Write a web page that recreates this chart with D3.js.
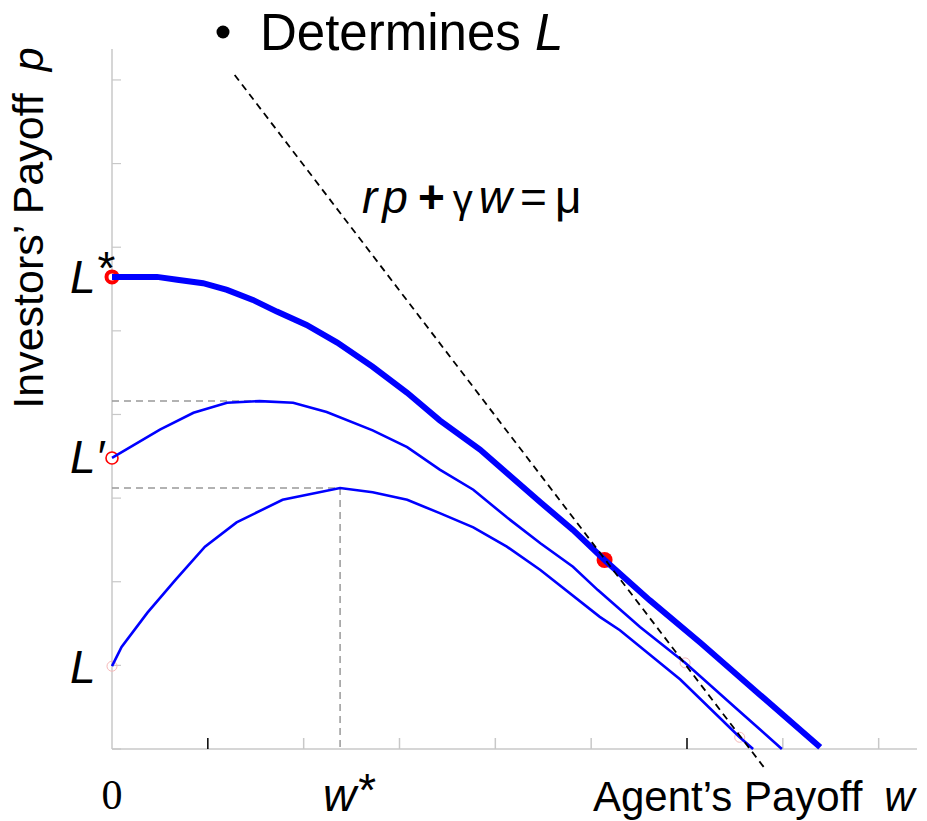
<!DOCTYPE html>
<html>
<head>
<meta charset="utf-8">
<script src="https://cdn.jsdelivr.net/npm/d3@7"></script>
<style>
  html, body { margin: 0; padding: 0; background: #fff; }
  svg { display: block; font-family: Arial, 'Liberation Sans', sans-serif; }
</style>
</head>
<body>
<div id="chart"></div>
<script>
// Payoff frontier curves (w = agent's payoff, p = investors' payoff)
const topW = [0, 0.47, 0.68, 0.95, 1.20, 1.47, 1.72, 2.03, 2.35, 2.72, 3.08, 3.42, 3.84, 4.12, 4.47, 4.81, 5.14, 5.61, 6.14, 6.76, 7.39];
const topP = [5.645, 5.645, 5.61, 5.57, 5.49, 5.37, 5.23, 5.07, 4.86, 4.57, 4.26, 3.93, 3.58, 3.30, 2.95, 2.62, 2.26, 1.78, 1.27, 0.65, 0.02];

const midW = [0, 0.50, 0.85, 1.20, 1.54, 1.89, 2.24, 2.72, 3.08, 3.42, 3.77, 4.12, 4.47, 4.81, 5.07, 5.51, 5.98, 6.50, 6.99];
const midP = [3.48, 3.82, 4.02, 4.14, 4.16, 4.14, 4.03, 3.81, 3.61, 3.34, 3.10, 2.77, 2.46, 2.18, 1.90, 1.46, 1.03, 0.50, 0];

const lowW = [0, 0.10, 0.37, 0.66, 0.97, 1.30, 1.78, 2.38, 2.72, 3.08, 3.42, 3.77, 4.12, 4.47, 5.09, 5.30, 5.93, 6.55, 6.69];
const lowP = [0.99, 1.22, 1.63, 2.02, 2.42, 2.71, 2.98, 3.12, 3.07, 2.98, 2.82, 2.65, 2.42, 2.14, 1.58, 1.42, 0.83, 0.14, 0];

// rp + γw = μ
const muW = [1.28, 6.83];
const muP = [8.06, -0.26];

// key points
const lStar = [0, 5.645];
const lPrime = [0, 3.48];
const lLow = [0, 0.99];
const tangent = [5.14, 2.26];
const faintPts = [[5.98, 1.03], [6.55, 0.14]];
const midPeak = [1.54, 4.16];
const lowPeak = [2.38, 3.12];

const xTicks = [1, 2, 3, 4, 5, 6, 7, 8];
const xDarkTicks = [1, 6];
const yTicks = [0, 1, 2, 3, 4, 5, 6, 7, 8];

const W = 927, H = 821;
const svg = d3.select('#chart').append('svg').attr('width', W).attr('height', H);

const x = d3.scaleLinear().domain([0, 8.4]).range([112, 917]);
const y = d3.scaleLinear().domain([0, 8.37]).range([749, 49]);

const toPts = (ws, ps) => ws.map((w, i) => [w, ps[i]]);
const line = d3.line().x(d => x(d[0])).y(d => y(d[1]));

// axes
const axisColor = '#c8c8c8';
svg.append('line')
  .attr('x1', x(0)).attr('x2', x(8.4)).attr('y1', y(0)).attr('y2', y(0))
  .attr('stroke', axisColor).attr('stroke-width', 1.5);
svg.append('line')
  .attr('x1', x(0)).attr('x2', x(0)).attr('y1', y(0)).attr('y2', y(8.37))
  .attr('stroke', axisColor).attr('stroke-width', 1.5);

svg.append('g').selectAll('line').data(xTicks).join('line')
  .attr('x1', d => x(d)).attr('x2', d => x(d))
  .attr('y1', y(0)).attr('y2', y(0) - 11)
  .attr('stroke', d => xDarkTicks.includes(d) ? '#000' : axisColor)
  .attr('stroke-width', 1.5);

svg.append('g').selectAll('line').data(yTicks).join('line')
  .attr('x1', x(0)).attr('x2', x(0) + 9)
  .attr('y1', d => y(d)).attr('y2', d => y(d))
  .attr('stroke', axisColor).attr('stroke-width', 1.2);

// gray guide lines
const guide = g => g.attr('stroke', '#999').attr('stroke-width', 1.5).attr('stroke-dasharray', '7,5');
svg.append('line').call(guide)
  .attr('x1', x(0)).attr('x2', x(midPeak[0])).attr('y1', y(midPeak[1])).attr('y2', y(midPeak[1]));
svg.append('line').call(guide)
  .attr('x1', x(0)).attr('x2', x(lowPeak[0])).attr('y1', y(lowPeak[1])).attr('y2', y(lowPeak[1]));
svg.append('line').call(guide)
  .attr('x1', x(lowPeak[0])).attr('x2', x(lowPeak[0])).attr('y1', y(lowPeak[1])).attr('y2', y(0));

// markers under the curves
svg.append('circle')
  .attr('cx', x(tangent[0])).attr('cy', y(tangent[1])).attr('r', 8)
  .attr('fill', '#ff0000');
svg.append('circle')
  .attr('cx', x(lStar[0])).attr('cy', y(lStar[1])).attr('r', 5.5)
  .attr('fill', '#fff').attr('stroke', '#ff0000').attr('stroke-width', 4);
svg.append('circle')
  .attr('cx', x(lPrime[0])).attr('cy', y(lPrime[1])).attr('r', 6)
  .attr('fill', '#fff').attr('stroke', '#ff0000').attr('stroke-width', 1.6);
svg.append('g').selectAll('circle').data([lLow, ...faintPts]).join('circle')
  .attr('cx', d => x(d[0])).attr('cy', d => y(d[1])).attr('r', 5)
  .attr('fill', 'none').attr('stroke', '#f6b8b8').attr('stroke-width', 1);

// curves
svg.append('path').datum(toPts(lowW, lowP)).attr('d', line)
  .attr('fill', 'none').attr('stroke', '#0000ff').attr('stroke-width', 2.6);
svg.append('path').datum(toPts(midW, midP)).attr('d', line)
  .attr('fill', 'none').attr('stroke', '#0000ff').attr('stroke-width', 2.6);
svg.append('path').datum(toPts(topW, topP)).attr('d', line)
  .attr('fill', 'none').attr('stroke', '#0000ff').attr('stroke-width', 6);

// iso-payoff line
svg.append('path').datum(toPts(muW, muP)).attr('d', line)
  .attr('fill', 'none').attr('stroke', '#000').attr('stroke-width', 1.8)
  .attr('stroke-dasharray', '7,5');

// text
const txt = (tx, ty, size) => svg.append('text').attr('x', tx).attr('y', ty)
  .style('font-size', size + 'px').style('fill', '#000');

// title bullet
svg.append('circle').attr('cx', 223).attr('cy', 32).attr('r', 6.5).attr('fill', '#000');
const title = txt(260, 50, 51);
title.append('tspan').text('Determines ');
title.append('tspan').style('font-style', 'italic').text('L');

// formula
const f = txt(362, 213, 46);
f.append('tspan').style('font-style', 'italic').text('r');
f.append('tspan').style('font-style', 'italic').attr('dx', 5).text('p');
f.append('tspan').attr('dx', 10).style('font-weight', 'bold').text('+');
f.append('tspan').attr('dx', 8).style('font-size', '40px').text('γ');
f.append('tspan').attr('dx', 6).style('font-style', 'italic').text('w');
f.append('tspan').attr('dx', 8).text('=');
f.append('tspan').attr('dx', 8).text('μ');

// left labels
const lab = (ty, sup, supDy) => {
  const t = txt(70, ty, 46);
  t.append('tspan').style('font-style', 'italic').text('L');
  if (sup) t.append('tspan').attr('dy', supDy).style('font-style', 'italic').text(sup);
};
lab(y(lStar[1]) + 16, '*', -9);
lab(y(lPrime[1]) + 15, '′', 0);
lab(y(lLow[1]) + 17, null);

// x labels
txt(x(0), 809, 42).attr('text-anchor', 'middle')
  .style('font-family', "'Times New Roman', 'Liberation Serif', serif").text('0');
const ws = txt(323, 811, 46);
ws.append('tspan').style('font-style', 'italic').text('w');
ws.append('tspan').attr('dy', -5).style('font-style', 'italic').text('*');

const xl = txt(593, 811, 42);
xl.append('tspan').text('Agent’s Payoff');
xl.append('tspan').attr('dx', 22).style('font-style', 'italic').text('w');

// y label
const yl = svg.append('text')
  .attr('transform', 'translate(43,228) rotate(-90)')
  .attr('text-anchor', 'middle')
  .style('font-size', '43px');
yl.append('tspan').text('Investors’ Payoff');
yl.append('tspan').attr('dx', 22).style('font-style', 'italic').text('p');
</script>
</body>
</html>
